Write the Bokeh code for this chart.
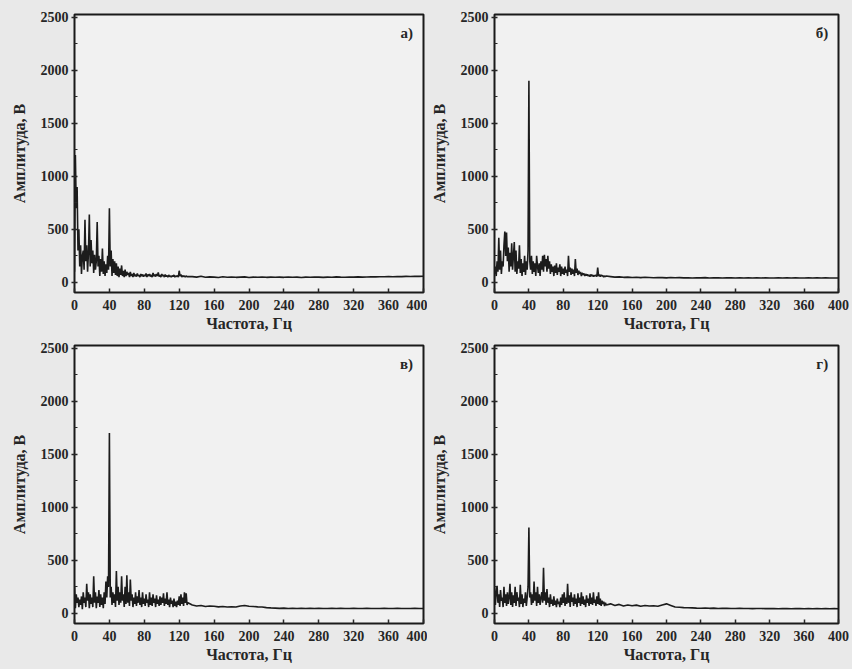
from bokeh.plotting import figure
from bokeh.layouts import gridplot
from bokeh.models import Range1d, FixedTicker, Label
from bokeh.embed import file_html
from bokeh.resources import INLINE

# frequency grid (Hz)
freq = list(range(0, 131)) + list(range(135, 401, 5))

amp_a_low = [
    100, 1200, 700, 900, 300, 500, 150, 350, 80, 250,
    300, 120, 590, 200, 350, 100, 280, 640, 150, 400,
    180, 300, 90, 260, 120, 200, 570, 150, 250, 60,
    220, 100, 320, 80, 200, 60, 170, 90, 250, 120,
    700, 150, 300, 60, 220, 90, 200, 70, 180, 60,
    150, 50, 130, 70, 160, 60, 110, 50, 120, 60,
    100, 70, 90, 50, 100, 60, 80, 50, 90, 60,
    75, 55, 85, 60, 70, 50, 80, 60, 75, 55,
    70, 60, 85, 50, 75, 60, 80, 55, 70, 50,
    90, 60, 75, 55, 80, 60, 95, 55, 70, 50,
    80, 60, 70, 50, 75, 55, 65, 50, 70, 55,
    60, 50, 65, 55, 70, 50, 60, 55, 65, 50,
    110, 60, 75, 50, 65, 55, 60, 50, 60, 55,
    55]
amp_a_tail = [
    55, 50, 58, 48, 52, 50, 47, 53, 49, 51,
    48, 50, 52, 47, 50, 49, 51, 48, 50, 49,
    50, 48, 51, 49, 50, 47, 50, 49, 51, 50,
    48, 50, 49, 52, 50, 49, 51, 50, 52, 50,
    51, 53, 52, 54, 53, 55, 54, 56, 55, 57,
    56, 58, 57, 58]

amp_b_low = [
    80, 150, 60, 200, 100, 420, 120, 300, 80, 200,
    150, 350, 480, 250, 470, 200, 330, 100, 280, 150,
    370, 120, 250, 380, 100, 300, 80, 200, 130, 350,
    90, 220, 60, 180, 100, 250, 70, 200, 120, 300,
    1900, 200, 120, 250, 80, 200, 100, 180, 60, 250,
    150, 90, 180, 60, 200, 120, 250, 100, 260, 150,
    220, 100, 250, 130, 200, 80, 170, 100, 150, 60,
    160, 90, 180, 70, 140, 100, 170, 60, 150, 80,
    130, 70, 150, 90, 120, 60, 250, 100, 140, 70,
    130, 80, 120, 60, 220, 90, 130, 70, 110, 80,
    100, 60, 90, 70, 85, 60, 80, 65, 75, 60,
    70, 55, 75, 60, 70, 55, 65, 60, 70, 55,
    140, 60, 75, 55, 70, 60, 65, 50, 60, 55,
    60]
amp_b_tail = [
    55, 50, 52, 48, 50, 47, 49, 45, 48, 46,
    44, 47, 45, 43, 46, 44, 45, 43, 44, 42,
    44, 43, 45, 42, 43, 44, 42, 43, 44, 42,
    43, 41, 43, 42, 44, 42, 43, 41, 42, 43,
    42, 44, 42, 43, 41, 42, 43, 42, 44, 42,
    43, 42, 41, 42]

amp_c_low = [
    250, 50, 180, 100, 150, 60, 130, 80, 160, 40,
    200, 100, 150, 60, 280, 120, 200, 50, 180, 90,
    150, 60, 350, 100, 200, 50, 160, 100, 220, 60,
    180, 80, 150, 50, 200, 90, 300, 150, 350, 250,
    1700, 150, 250, 80, 200, 100, 180, 60, 400, 120,
    250, 80, 200, 100, 350, 120, 180, 60, 250, 90,
    360, 100, 200, 70, 320, 120, 180, 60, 150, 90,
    200, 70, 160, 100, 220, 80, 150, 60, 200, 90,
    140, 70, 180, 100, 130, 60, 200, 80, 150, 70,
    180, 100, 140, 60, 170, 90, 130, 70, 160, 80,
    150, 100, 190, 70, 140, 90, 200, 80, 130, 60,
    150, 90, 120, 60, 140, 70, 110, 60, 120, 80,
    160, 70, 180, 90, 150, 70, 200, 100, 190, 80,
    100]
amp_c_tail = [
    80, 70, 75, 65, 70, 68, 62, 65, 60, 63,
    60, 70, 75, 68, 65, 62, 60, 55, 52, 50,
    48, 50, 47, 49, 46, 48, 47, 49, 46, 48,
    47, 46, 48, 47, 49, 47, 46, 48, 47, 46,
    48, 47, 46, 47, 48, 46, 47, 48, 47, 46,
    47, 48, 47, 46]

amp_d_low = [
    250, 80, 200, 260, 100, 180, 60, 220, 120, 150,
    60, 250, 100, 180, 70, 200, 90, 150, 280, 80,
    200, 60, 170, 100, 250, 70, 200, 120, 150, 60,
    270, 90, 180, 60, 140, 100, 200, 70, 150, 250,
    810, 150, 200, 80, 180, 100, 300, 120, 200, 70,
    250, 100, 180, 80, 150, 200, 100, 430, 120, 200,
    80, 230, 100, 150, 60, 180, 90, 130, 70, 160,
    80, 120, 60, 140, 90, 110, 60, 150, 80, 180,
    100, 200, 70, 150, 90, 280, 100, 170, 60, 200,
    110, 150, 70, 180, 90, 140, 60, 190, 100, 150,
    70, 200, 90, 160, 80, 130, 60, 170, 100, 140,
    70, 190, 90, 150, 80, 200, 100, 130, 70, 160,
    90, 200, 80, 140, 70, 120, 90, 110, 70, 100,
    80]
amp_d_tail = [
    90, 75, 85, 70, 80, 72, 78, 68, 75, 70,
    72, 68, 80, 90, 75, 60, 58, 55, 53, 52,
    50, 49, 51, 48, 50, 47, 49, 48, 47, 46,
    48, 47, 46, 45, 47, 46, 45, 46, 45, 44,
    46, 45, 44, 45, 46, 44, 45, 44, 45, 44,
    45, 44, 45, 44]

x_ticks = [0, 40, 80, 120, 160, 200, 240, 280, 320, 360, 400]
y_ticks = [0, 500, 1000, 1500, 2000, 2500]
panel_labels = ["а)", "б)", "в)", "г)"]
x_title = "Частота, Гц"
y_title = "Амплитуда, В"

FONT = "Liberation Serif"
INK = "#262626"
PAPER = "#e9e9e9"


def make_panel(amp, label, w, h, bl, br, bt, bb):
    p = figure(width=w, height=h, output_backend="svg", toolbar_location=None,
               x_range=Range1d(0, 400), y_range=Range1d(-95, 2525),
               min_border_left=bl, min_border_right=br,
               min_border_top=bt, min_border_bottom=bb)
    p.background_fill_color = "#f1f1f1"
    p.border_fill_color = PAPER
    p.outline_line_color = "#1a1a1a"
    p.outline_line_width = 2
    p.grid.visible = False
    p.line(freq, amp, line_color="#1c1c1c", line_width=1.6)

    xa = p.xaxis[0]
    xa.ticker = FixedTicker(ticks=x_ticks)
    xa.axis_line_color = None
    xa.major_tick_in = 4
    xa.major_tick_out = 0
    xa.major_tick_line_color = INK
    xa.major_tick_line_width = 1.5
    xa.minor_tick_line_color = None
    xa.major_label_standoff = 7
    xa.axis_label = x_title
    xa.axis_label_standoff = 2

    ya = p.yaxis[0]
    ya.ticker = FixedTicker(ticks=y_ticks, minor_ticks=[250, 750, 1250, 1750, 2250])
    ya.axis_line_color = None
    ya.major_tick_in = 3
    ya.major_tick_out = 3
    ya.minor_tick_in = 3
    ya.minor_tick_out = 0
    ya.major_tick_line_color = INK
    ya.minor_tick_line_color = INK
    ya.major_tick_line_width = 1.5
    ya.major_label_standoff = 3
    ya.axis_label = y_title
    ya.axis_label_standoff = 10

    for ax in (xa, ya):
        ax.major_label_text_font = FONT
        ax.major_label_text_font_size = "14px"
        ax.major_label_text_font_style = "bold"
        ax.major_label_text_color = INK
        ax.axis_label_text_font = FONT
        ax.axis_label_text_font_size = "16px"
        ax.axis_label_text_font_style = "bold"
        ax.axis_label_text_color = INK

    p.add_layout(Label(x=388, y=2350, text=label, text_align="right",
                       text_baseline="middle", text_font=FONT,
                       text_font_size="15px", text_font_style="bold",
                       text_color=INK))
    return p


pa = make_panel(amp_a_low + amp_a_tail, panel_labels[0], 427, 334, 74, 4, 14, 38)
pb = make_panel(amp_b_low + amp_b_tail, panel_labels[1], 425, 334, 64, 14, 13, 41)
pc = make_panel(amp_c_low + amp_c_tail, panel_labels[2], 427, 335, 74, 4, 11, 43)
pd = make_panel(amp_d_low + amp_d_tail, panel_labels[3], 425, 335, 64, 14, 9, 46)

grid = gridplot([[pa, pb], [pc, pd]], toolbar_location=None)
grid.styles = {"background-color": PAPER}

open("out.html", "w").write(file_html(grid, INLINE))
